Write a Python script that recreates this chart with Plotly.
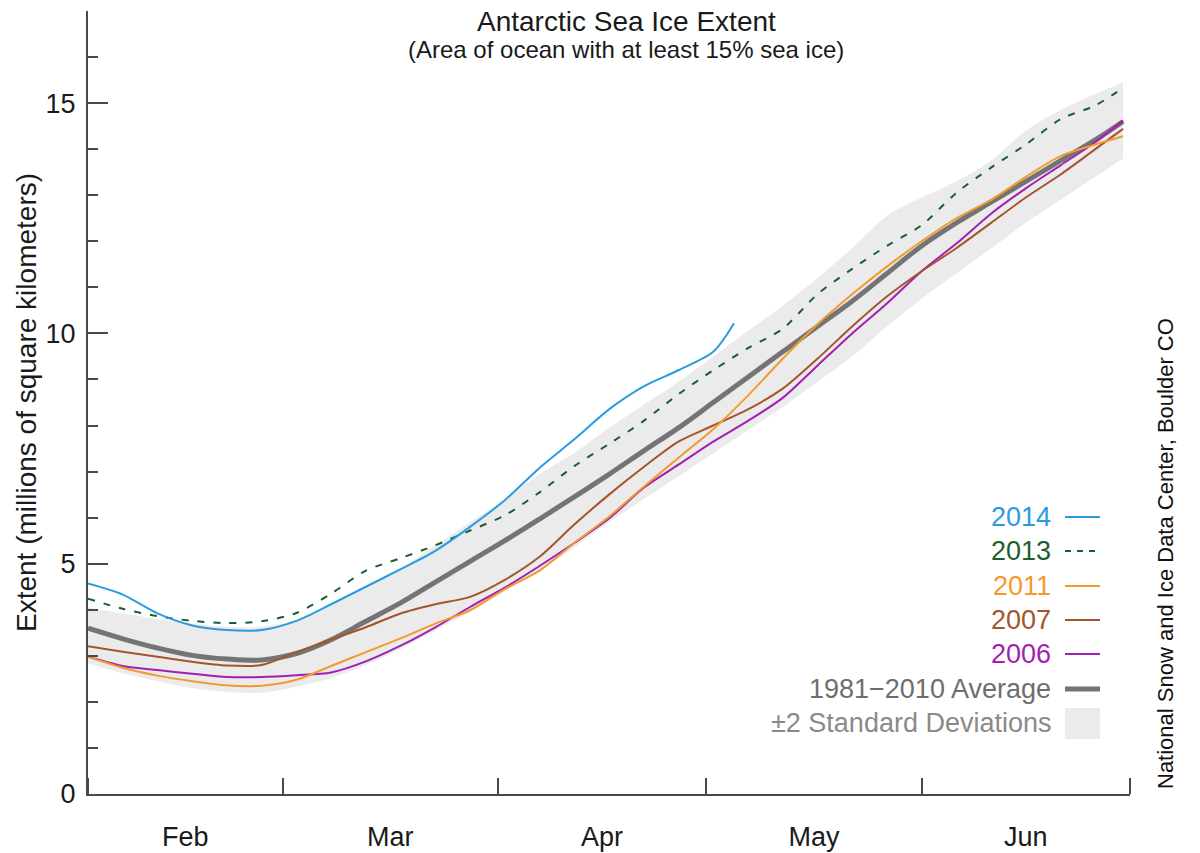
"""
Antarctic Sea Ice Extent, Feb-Jun, with the 1981-2010 average and its +/-2 SD band.
"""

import pandas as pd
import plotly.graph_objects as go

# DATA (millions of km2)
START = pd.Timestamp("2014-02-01")

DAYS = [0, 5, 10, 15, 20, 25, 30, 35, 40, 45, 50, 55, 60, 65, 70, 75,
        80, 85, 90, 95, 100, 105, 110, 115, 120, 125, 130, 135, 140, 145, 149]
DAYS_2014 = [0, 5, 10, 15, 20, 25, 30, 35, 40, 45, 50, 55, 60, 65, 70, 75,
             80, 85, 90, 93]

AVG = [3.60, 3.37, 3.17, 3.01, 2.93, 2.91, 3.05, 3.35, 3.75, 4.15, 4.60, 5.05,
       5.50, 5.97, 6.45, 6.94, 7.45, 7.95, 8.50, 9.05, 9.60, 10.15, 10.70,
       11.30, 11.90, 12.40, 12.85, 13.30, 13.75, 14.20, 14.60]
SD_UPPER = [4.05, 3.92, 3.80, 3.70, 3.63, 3.63, 3.78, 4.10, 4.50, 4.90, 5.40,
            5.90, 6.40, 6.95, 7.40, 7.95, 8.45, 8.95, 9.50, 10.05, 10.60,
            11.20, 11.85, 12.55, 12.95, 13.30, 13.75, 14.40, 14.85, 15.20, 15.45]
SD_LOWER = [2.84, 2.62, 2.45, 2.30, 2.22, 2.20, 2.33, 2.52, 2.80, 3.15, 3.55,
            3.95, 4.40, 4.85, 5.35, 5.90, 6.40, 6.90, 7.40, 7.90, 8.40, 8.95,
            9.50, 10.15, 10.75, 11.30, 11.85, 12.40, 12.90, 13.40, 13.80]

Y2014 = [4.57, 4.33, 3.92, 3.66, 3.56, 3.56, 3.76, 4.12, 4.50, 4.88, 5.28,
         5.80, 6.38, 7.08, 7.70, 8.35, 8.85, 9.20, 9.60, 10.22]
Y2013 = [4.24, 4.02, 3.86, 3.76, 3.71, 3.75, 3.93, 4.35, 4.85, 5.12, 5.40,
         5.72, 6.05, 6.55, 7.12, 7.60, 8.10, 8.68, 9.20, 9.68, 10.10, 10.85,
         11.40, 11.90, 12.35, 13.05, 13.60, 14.10, 14.65, 14.95, 15.33]
Y2011 = [2.98, 2.74, 2.57, 2.45, 2.36, 2.35, 2.48, 2.78, 3.08, 3.38, 3.70,
         3.99, 4.45, 4.85, 5.45, 6.02, 6.67, 7.30, 7.92, 8.65, 9.45, 10.20,
         10.85, 11.45, 12.00, 12.50, 12.90, 13.40, 13.85, 14.10, 14.28]
Y2007 = [3.21, 3.09, 2.98, 2.87, 2.79, 2.80, 3.08, 3.35, 3.62, 3.92, 4.12,
         4.28, 4.65, 5.15, 5.85, 6.50, 7.10, 7.65, 8.00, 8.35, 8.80, 9.45,
         10.15, 10.80, 11.35, 11.85, 12.40, 12.95, 13.45, 14.00, 14.44]
Y2006 = [2.98, 2.78, 2.69, 2.61, 2.54, 2.54, 2.58, 2.64, 2.88, 3.22, 3.62,
         4.06, 4.48, 4.95, 5.45, 5.98, 6.65, 7.15, 7.65, 8.10, 8.60, 9.30,
         10.00, 10.65, 11.35, 11.95, 12.60, 13.15, 13.65, 14.15, 14.62]

YEARS = ["2014", "2013", "2011", "2007", "2006"]
COLORS = ["#2a9be0", "#1e5e2c", "#f39a2e", "#a4552b", "#a21fb4"]

FONT = "Liberation Sans, Arial, Helvetica, sans-serif"
GRAY_AVG = "#747474"
BAND = "#ebebeb"

# plot box in pixels (figure 1200x853)
L, R, T, B = 88, 1130, 11, 794


def px_x(px):
    return (px - L) / (R - L)


def px_y(py):
    return (B - py) / (B - T)


def dates(days):
    return START + pd.to_timedelta(days, unit="D")


x_all = dates(DAYS)
fig = go.Figure()

# +/-2 SD band
fig.add_trace(go.Scatter(x=x_all, y=SD_LOWER, mode="lines", line=dict(width=0, shape="spline"),
                         showlegend=False, hoverinfo="skip"))
fig.add_trace(go.Scatter(x=x_all, y=SD_UPPER, mode="lines", line=dict(width=0, shape="spline"),
                         fill="tonexty", fillcolor=BAND, showlegend=False, hoverinfo="skip"))

# average
fig.add_trace(go.Scatter(x=x_all, y=AVG, mode="lines",
                         line=dict(color=GRAY_AVG, width=5, shape="spline"), showlegend=False))

series = {"2006": (DAYS, Y2006), "2007": (DAYS, Y2007), "2011": (DAYS, Y2011),
          "2013": (DAYS, Y2013), "2014": (DAYS_2014, Y2014)}
for yr in ["2006", "2007", "2011", "2013", "2014"]:
    d, v = series[yr]
    col = COLORS[YEARS.index(yr)]
    dash = "7px,9px" if yr == "2013" else "solid"
    fig.add_trace(go.Scatter(x=dates(d), y=v, mode="lines",
                             line=dict(color=col, width=2, dash=dash, shape="spline", smoothing=0.8),
                             showlegend=False, name=yr))

# hand-made legend: right aligned text, sample on the right
annos = []
shapes = []
row_y = [517, 551, 586, 620, 654, 689, 723]
for i, yr in enumerate(YEARS):
    annos.append(dict(x=px_x(1053), y=px_y(row_y[i]), xref="paper", yref="paper",
                      text=yr, showarrow=False, xanchor="right", yanchor="middle",
                      font=dict(size=27, color=COLORS[i], family=FONT)))
    shapes.append(dict(type="line", xref="paper", yref="paper",
                       x0=px_x(1065), x1=px_x(1100), y0=px_y(row_y[i]), y1=px_y(row_y[i]),
                       line=dict(color=COLORS[i], width=2, dash="6px,6px" if yr == "2013" else "solid")))
annos.append(dict(x=px_x(1053), y=px_y(row_y[5]), xref="paper", yref="paper",
                  text="1981\u22122010 Average", showarrow=False, xanchor="right", yanchor="middle",
                  font=dict(size=27, color="#6e6e6e", family=FONT)))
shapes.append(dict(type="line", xref="paper", yref="paper",
                   x0=px_x(1065), x1=px_x(1100), y0=px_y(row_y[5]), y1=px_y(row_y[5]),
                   line=dict(color=GRAY_AVG, width=5)))
annos.append(dict(x=px_x(1053), y=px_y(row_y[6]), xref="paper", yref="paper",
                  text="\u00b12 Standard Deviations", showarrow=False, xanchor="right", yanchor="middle",
                  font=dict(size=27, color="#8a8a8a", family=FONT)))
shapes.append(dict(type="rect", xref="paper", yref="paper",
                   x0=px_x(1065), x1=px_x(1100), y0=px_y(739), y1=px_y(708),
                   fillcolor=BAND, line=dict(width=0)))

# title and subtitle sit inside the plot box
annos.append(dict(x=px_x(626), y=px_y(22), xref="paper", yref="paper",
                  text="Antarctic Sea Ice Extent", showarrow=False, yanchor="middle",
                  font=dict(size=28, color="#1a1a1a", family=FONT)))
annos.append(dict(x=px_x(626), y=px_y(49), xref="paper", yref="paper",
                  text="(Area of ocean with at least 15% sea ice)", showarrow=False, yanchor="middle",
                  font=dict(size=24, color="#1a1a1a", family=FONT)))

# source credit, vertical on the right
annos.append(dict(x=px_x(1165), y=px_y(554), xref="paper", yref="paper",
                  text="National Snow and Ice Data Center, Boulder CO", showarrow=False,
                  textangle=-90, xanchor="center", yanchor="middle",
                  font=dict(size=22, color="#111111", family=FONT)))

fig.update_layout(
    width=1200, height=853,
    margin=dict(l=L, r=1200 - R, t=T, b=853 - B, autoexpand=False),
    paper_bgcolor="white", plot_bgcolor="white",
    font=dict(family=FONT, color="#1a1a1a"),
    annotations=annos, shapes=shapes,
    showlegend=False,
)
fig.update_xaxes(
    type="date", range=[START, pd.Timestamp("2014-07-01")],
    dtick="M1", tick0="2014-02-01", tickformat="%b", ticklabelmode="period",
    ticks="inside", ticklen=16, tickwidth=2, tickcolor="#4a4a4a",
    showline=True, linecolor="#4a4a4a", linewidth=2, showgrid=False, zeroline=False,
    tickfont=dict(size=27, color="#1a1a1a"), ticklabelstandoff=18, automargin=False,
)
fig.update_yaxes(
    range=[0, 17], tickvals=[0, 5, 10, 15],
    ticks="inside", ticklen=20, tickwidth=2, tickcolor="#4a4a4a",
    minor=dict(dtick=1, ticks="inside", ticklen=10, tickwidth=2, tickcolor="#4a4a4a"),
    showline=True, linecolor="#4a4a4a", linewidth=2, showgrid=False, zeroline=False,
    tickfont=dict(size=27, color="#1a1a1a"), ticklabelstandoff=5, automargin=False,
    title=dict(text="Extent (millions of square kilometers)", font=dict(size=28, color="#1a1a1a"),
               standoff=1),
)

# page body has an 8px default margin; drop it so the figure sits at the window corner
fig.write_html("out.html", config={"displayModeBar": False},
               post_script="document.body.style.margin = '0';")
